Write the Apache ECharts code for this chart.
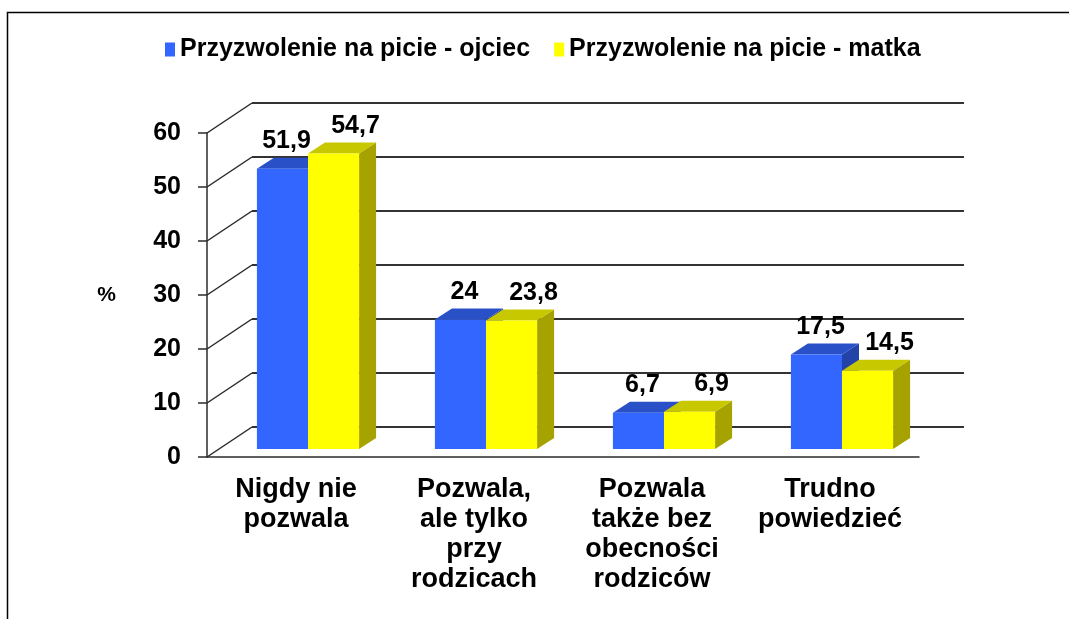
<!DOCTYPE html>
<html>
<head>
<meta charset="utf-8">
<script src="https://cdn.jsdelivr.net/npm/echarts@6/dist/echarts.min.js"></script>
<style>
  html, body { margin: 0; padding: 0; background: #fff; }
  #chart { width: 1069px; height: 619px; }
</style>
</head>
<body>
<div id="chart"></div>
<script>
// dane z wykresu
const categories = ['Nigdy nie\npozwala', 'Pozwala,\nale tylko\nprzy\nrodzicach', 'Pozwala\ntakże bez\nobecności\nrodziców', 'Trudno\npowiedzieć'];
const ojciec = [51.9, 24, 6.7, 17.5];
const matka = [54.7, 23.8, 6.9, 14.5];
const yTicks = [0, 10, 20, 30, 40, 50, 60];
const seriesNames = ['Przyzwolenie na picie - ojciec', 'Przyzwolenie na picie - matka'];

const numFont = '"Liberation Sans", Arial, sans-serif';
const lineCol = '#2b2b2b';

function fmt(v) {
  return String(v).replace('.', ',');
}

// slupek 3D: przod, gora, bok
function barRenderer(side, colors, labelDx) {
  return function (params, api) {
    const i = api.value(0), v = api.value(1);
    const b = api.coord([i, 0]);
    const t = api.coord([i, v]);
    const w = api.size([1, 0])[0] * 0.287;
    const x0 = b[0] + 12 + (side === 0 ? -w : 0);
    const x1 = x0 + w;
    const yb = b[1] - 8, yt = t[1] - 8;
    const dx = 17, dy = -11;
    return {
      type: 'group',
      children: [
        { type: 'polygon', shape: { points: [[x1, yb], [x1 + dx, yb + dy], [x1 + dx, yt + dy], [x1, yt]] }, style: { fill: colors[2] } },
        { type: 'polygon', shape: { points: [[x0, yt], [x1, yt], [x1 + dx, yt + dy], [x0 + dx, yt + dy]] }, style: { fill: colors[1] } },
        { type: 'rect', shape: { x: x0, y: yt, width: w, height: yb - yt }, style: { fill: colors[0] } },
        {
          type: 'text',
          style: {
            text: fmt(v), x: (x0 + x1) / 2 + labelDx, y: yt + dy - 4,
            align: 'center', verticalAlign: 'bottom',
            fontSize: 25, fontWeight: 'bold', fontFamily: numFont, fill: '#000'
          }
        }
      ]
    };
  };
}

const chart = echarts.init(document.getElementById('chart'));
chart.setOption({
  backgroundColor: '#fff',
  animation: false,
  graphic: [{
    type: 'rect',
    shape: { x: 7.5, y: 12.5, width: 1080, height: 640 },
    style: { fill: 'none', stroke: '#000', lineWidth: 1.5 },
    silent: true
  }],
  legend: {
    data: seriesNames,
    left: 160,
    top: 32,
    icon: 'rect',
    itemWidth: 10,
    itemHeight: 14,
    itemGap: 24,
    textStyle: { fontSize: 25, fontWeight: 'bold', fontFamily: numFont, color: '#000' }
  },
  grid: [
    { left: 207, top: 133, width: 712, height: 324 },
    { left: 252, top: 103, width: 712, height: 324 }
  ],
  xAxis: [
    {
      type: 'category', gridIndex: 0, data: categories,
      axisLine: { lineStyle: { color: lineCol, width: 1.5 } },
      axisTick: { length: 8, lineStyle: { color: lineCol, width: 1.5 } },
      axisLabel: {
        margin: 18, color: '#000', fontSize: 27, fontWeight: 'bold',
        fontFamily: numFont, lineHeight: 30, interval: 0
      }
    },
    { type: 'category', gridIndex: 1, data: categories, show: false }
  ],
  yAxis: [
    {
      type: 'value', gridIndex: 0, min: 0, max: 60, interval: 10,
      name: '%', nameLocation: 'middle', nameGap: 91, nameRotate: 0,
      nameTextStyle: { fontSize: 21, fontWeight: 'bold', fontFamily: numFont, color: '#000' },
      axisLine: { show: true, lineStyle: { color: lineCol, width: 1.5 } },
      axisTick: { show: true, length: 9, lineStyle: { color: lineCol, width: 1.5 } },
      axisLabel: { margin: 26, color: '#000', fontSize: 25, fontWeight: 'bold', fontFamily: numFont },
      splitLine: { show: false }
    },
    {
      type: 'value', gridIndex: 1, min: 0, max: 60, interval: 10,
      axisLine: { show: false }, axisTick: { show: false }, axisLabel: { show: false },
      splitLine: { show: true, lineStyle: { color: '#333', width: 2 } }
    }
  ],
  series: [
    {
      type: 'custom', name: 'diag', xAxisIndex: 0, yAxisIndex: 0, z: 1, silent: true,
      data: yTicks.map(v => [0, v]),
      renderItem: function (params, api) {
        const p = api.coord([0, api.value(1)]);
        const x = params.coordSys.x;
        return {
          type: 'line',
          shape: { x1: x, y1: p[1], x2: x + 45, y2: p[1] - 30 },
          style: { stroke: lineCol, lineWidth: 1.5 }
        };
      }
    },
    {
      type: 'custom', name: seriesNames[0], xAxisIndex: 0, yAxisIndex: 0, z: 3,
      itemStyle: { color: '#3366FF' },
      data: ojciec.map((v, i) => [i, v]),
      renderItem: barRenderer(0, ['#3366FF', '#2A50C8', '#2443A8'], 4)
    },
    {
      type: 'custom', name: seriesNames[1], xAxisIndex: 0, yAxisIndex: 0, z: 4,
      itemStyle: { color: '#FFFF00' },
      data: matka.map((v, i) => [i, v]),
      renderItem: barRenderer(1, ['#FFFF00', '#C8C800', '#A6A300'], 22)
    }
  ]
});
</script>
</body>
</html>
